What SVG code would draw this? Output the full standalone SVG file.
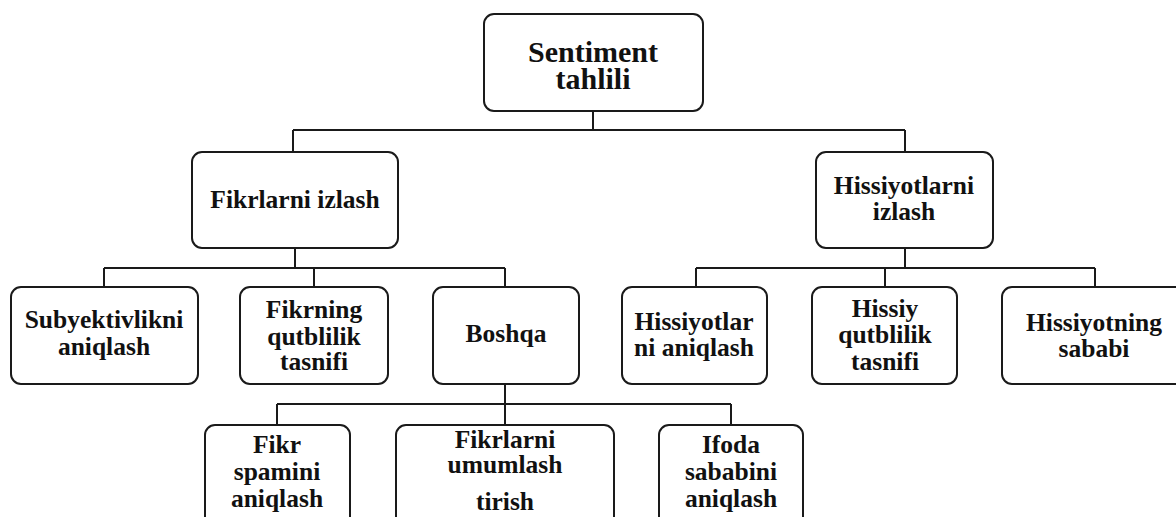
<svg xmlns="http://www.w3.org/2000/svg" width="1176" height="517" viewBox="0 0 1176 517">
<style>
.box{fill:#fff;stroke:#1a1a1a;stroke-width:2}
.t{font-family:"Liberation Serif","Times New Roman",serif;font-weight:bold;font-size:25.5px;fill:#111;text-anchor:middle}
.big{font-size:30px}
.c{fill:none;stroke:#1a1a1a;stroke-width:2}
</style>
<rect width="1176" height="517" fill="#fff"/>
<g id="connectors">
<path class="c" d="M593 111V130M293 130H905M293 130V152M905 130V152"/>
<path class="c" d="M295 248V268M104 268H505M104 268V287M314 268V287M505 268V287"/>
<path class="c" d="M905 248V268M696 268H1095M696 268V287M885 268V287M1095 268V287"/>
<path class="c" d="M505 384V404M277 404H731M277 404V425M505 404V425M731 404V425"/>
</g>
<g id="n-root"><rect class="box" x="484" y="14" width="219" height="97" rx="10"/><text class="t big" x="593" y="62">Sentiment</text><text class="t big" x="593" y="89">tahlili</text></g>
<g id="n-fikrlarni-izlash"><rect class="box" x="192" y="152" width="206" height="96" rx="10"/><text class="t" x="295" y="208">Fikrlarni izlash</text></g>
<g id="n-hissiyotlarni-izlash"><rect class="box" x="816" y="152" width="177" height="96" rx="10"/><text class="t" x="904" y="194">Hissiyotlarni</text><text class="t" x="904" y="220">izlash</text></g>
<g id="n-subyektivlik"><rect class="box" x="11" y="287" width="187" height="97" rx="10"/><text class="t" x="104" y="328">Subyektivlikni</text><text class="t" x="104" y="355">aniqlash</text></g>
<g id="n-fikrning"><rect class="box" x="240" y="287" width="148" height="97" rx="10"/><text class="t" x="314" y="318">Fikrning</text><text class="t" x="314" y="345">qutblilik</text><text class="t" x="314" y="370">tasnifi</text></g>
<g id="n-boshqa"><rect class="box" x="433" y="287" width="146" height="97" rx="10"/><text class="t" x="506" y="342">Boshqa</text></g>
<g id="n-hissiyotlar"><rect class="box" x="622" y="287" width="145" height="97" rx="10"/><text class="t" x="694" y="330">Hissiyotlar</text><text class="t" x="694" y="356">ni aniqlash</text></g>
<g id="n-hissiy"><rect class="box" x="812" y="287" width="145" height="97" rx="10"/><text class="t" x="885" y="317">Hissiy</text><text class="t" x="885" y="343">qutblilik</text><text class="t" x="885" y="370">tasnifi</text></g>
<g id="n-hissiyotning"><rect class="box" x="1002" y="287" width="186" height="97" rx="10"/><text class="t" x="1094" y="331">Hissiyotning</text><text class="t" x="1094" y="357">sababi</text></g>
<g id="n-fikr-spam"><rect class="box" x="205" y="425" width="145" height="110" rx="10"/><text class="t" x="277" y="453">Fikr</text><text class="t" x="277" y="480">spamini</text><text class="t" x="277" y="507">aniqlash</text></g>
<g id="n-fikr-umum"><rect class="box" x="396" y="425" width="218" height="110" rx="10"/><text class="t" x="505" y="448">Fikrlarni</text><text class="t" x="505" y="473">umumlash</text><text class="t" x="505" y="510">tirish</text></g>
<g id="n-ifoda"><rect class="box" x="659" y="425" width="144" height="110" rx="10"/><text class="t" x="731" y="453">Ifoda</text><text class="t" x="731" y="480">sababini</text><text class="t" x="731" y="507">aniqlash</text></g>
</svg>
